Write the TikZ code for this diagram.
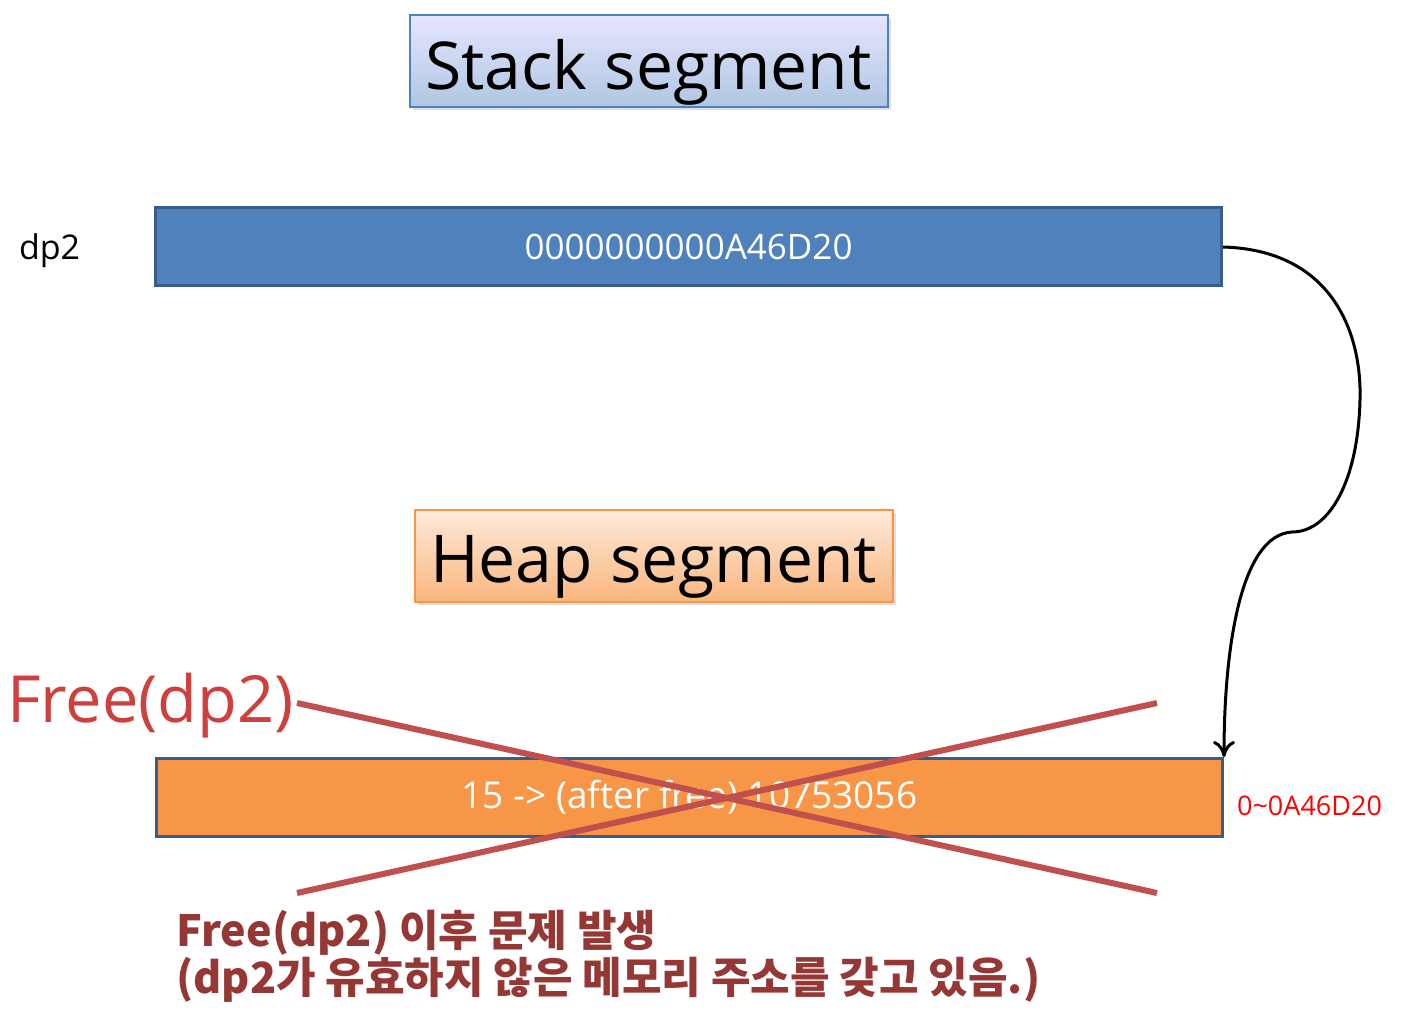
\documentclass[tikz,border=0pt]{standalone}
\usepackage{fontspec}
\setmainfont{Open Sans}
\newfontfamily\krfont{Noto Sans CJK KR}
\usepackage{xcolor}
\usetikzlibrary{arrows.meta,positioning,calc,shadows}
\definecolor{stackblue}{HTML}{4F81BD}
\definecolor{edgeblue}{HTML}{385D8A}
\definecolor{heaporange}{HTML}{F79646}
\definecolor{crossred}{HTML}{C0504D}
\definecolor{notered}{HTML}{953735}
\definecolor{addrred}{HTML}{FF0000}
\tikzset{
  segtitle/.style={draw,line width=1pt,minimum width=239pt,minimum height=46pt,
    inner sep=0pt,text depth=0pt,font=\fontsize{33}{36}\selectfont,
    drop shadow={shadow xshift=1.5pt,shadow yshift=-1.5pt,opacity=.25}},
  membar/.style={draw=edgeblue,line width=1.5pt,minimum width=533pt,minimum height=39pt,
    inner sep=0pt,text=white,font=\fontsize{17.5}{20}\selectfont},
  cross/.style={draw=crossred,line width=3pt},
  ptr/.style={-{To[length=8pt,width=11pt,line width=1.5pt]},line width=1.5pt,draw=black}
}
\begin{document}
\begin{tikzpicture}[x=0.5pt,y=-0.5pt]
  \useasboundingbox (0,0) rectangle (1403,1027);
  % segment titles
  \node[segtitle,draw=stackblue,top color=blue!10!white,bottom color=stackblue!45!white]
    (stacktitle) at (648.5,61) {\raisebox{-3pt}{Stack segment}};
  \node[segtitle,draw=heaporange,top color=heaporange!20!white,bottom color=heaporange!70!white]
    (heaptitle) at (653.5,556) {\raisebox{-3pt}{Heap segment}};
  % stack variable
  \node[membar,fill=stackblue] (stackbar) at (688.5,247) {0000000000A46D20};
  \node[anchor=west,font=\fontsize{17}{20}\selectfont] (dptwo) at (12,251) {dp2};
  % heap block
  \node[membar,fill=heaporange,font=\fontsize{18.5}{20}\selectfont] (heapbar)
    at (689.5,797.5) {15 -> (after free) 10753056};
  \node[anchor=west,text=addrred,font=\fontsize{13.5}{15}\selectfont] (addr)
    at (1230,806) {0\textasciitilde 0A46D20};
  % pointer
  \draw[ptr] (stackbar.east) .. controls (1330,250) and (1362,330) .. (1360,400)
    .. controls (1358,480) and (1330,532) .. (1292,532)
    .. controls (1240,535) and (1224,650) .. (heapbar.north east);
  % free
  \coordinate (xa) at (297,703);
  \coordinate (xb) at (1157,893);
  \coordinate (xc) at (297,893);
  \coordinate (xd) at (1157,703);
  \draw[cross] (xa) -- (xb);
  \draw[cross] (xc) -- (xd);
  \node[anchor=west,text=crossred!80!red,font=\fontsize{32.5}{34}\selectfont] (freecall)
    at (0,706) {Free(dp2)};
  \node[anchor=north west,align=left,text=notered,inner sep=0pt,
    font=\krfont\bfseries\fontsize{21.5}{23.5}\selectfont] (problem) at (176,910)
    {Free(dp2) 이후 문제 발생\\(dp2가 유효하지 않은 메모리 주소를 갖고 있음.)};
\end{tikzpicture}
\end{document}
